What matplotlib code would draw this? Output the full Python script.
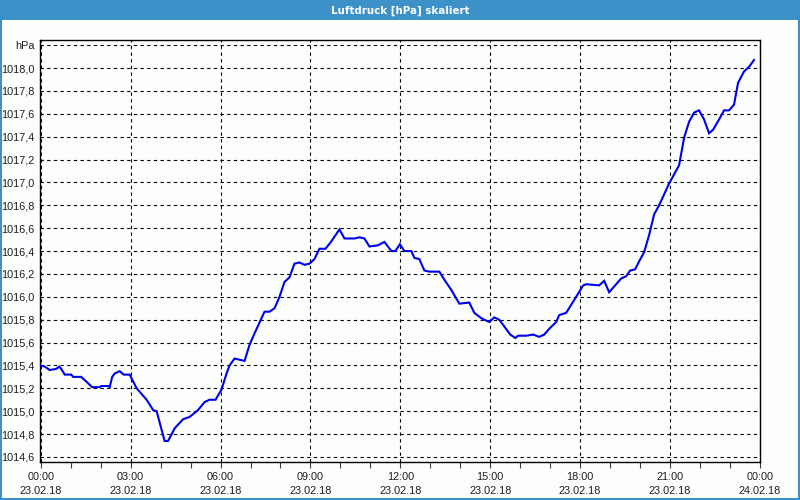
import matplotlib
matplotlib.use("Agg")
import matplotlib.pyplot as plt
from matplotlib.patches import Rectangle
from matplotlib.ticker import FixedLocator

# time in minutes since 23.02.18 00:00
minutes = [0, 8, 18, 31, 37, 41, 48, 61, 65, 81, 91, 103, 118, 121, 135, 138, 143, 148, 158, 166,
           178, 192, 212, 225, 232, 248, 255, 268, 285, 298, 315, 328, 338, 350, 362, 372, 378, 388,
           398, 408, 418, 428, 448, 458, 468, 478, 488, 498, 508, 518, 528, 538, 548, 558, 570, 581,
           598, 608, 628, 638, 648, 658, 675, 688, 702, 710, 719, 728, 742, 748, 758, 768, 778, 798,
           808, 822, 838, 858, 868, 883, 898, 908, 918, 940, 950, 956, 972, 986, 998, 1008, 1018,
           1032, 1038, 1052, 1062, 1076, 1086, 1092, 1118, 1128, 1138, 1148, 1162, 1172, 1180, 1190,
           1198, 1208, 1218, 1228, 1238, 1258, 1278, 1288, 1298, 1308, 1318, 1328, 1338, 1346, 1358,
           1368, 1378, 1388, 1396, 1408, 1418, 1428]
pressure = [1015.40, 1015.39, 1015.36, 1015.37, 1015.39, 1015.37, 1015.32, 1015.32, 1015.30, 1015.30,
            1015.26, 1015.21, 1015.21, 1015.22, 1015.22, 1015.21, 1015.30, 1015.33, 1015.35, 1015.32,
            1015.32, 1015.20, 1015.10, 1015.01, 1015.00, 1014.74, 1014.74, 1014.85, 1014.93, 1014.95,
            1015.01, 1015.08, 1015.10, 1015.10, 1015.19, 1015.33, 1015.40, 1015.46, 1015.45, 1015.44,
            1015.58, 1015.68, 1015.87, 1015.87, 1015.90, 1016.00, 1016.13, 1016.17, 1016.29, 1016.30,
            1016.28, 1016.29, 1016.33, 1016.42, 1016.42, 1016.48, 1016.59, 1016.51, 1016.51, 1016.52,
            1016.51, 1016.44, 1016.45, 1016.48, 1016.40, 1016.40, 1016.46, 1016.40, 1016.40, 1016.34,
            1016.33, 1016.23, 1016.22, 1016.22, 1016.15, 1016.06, 1015.94, 1015.95, 1015.86, 1015.81,
            1015.78, 1015.82, 1015.80, 1015.67, 1015.64, 1015.66, 1015.66, 1015.67, 1015.65, 1015.67,
            1015.72, 1015.78, 1015.84, 1015.86, 1015.93, 1016.03, 1016.10, 1016.11, 1016.10, 1016.14,
            1016.04, 1016.09, 1016.16, 1016.18, 1016.23, 1016.24, 1016.31, 1016.39, 1016.54, 1016.72,
            1016.80, 1016.99, 1017.15, 1017.39, 1017.53, 1017.61, 1017.63, 1017.55, 1017.43, 1017.46,
            1017.55, 1017.63, 1017.63, 1017.68, 1017.87, 1017.97, 1018.01, 1018.07]

x_tick_minutes = [0, 180, 360, 540, 720, 900, 1080, 1260, 1440]
x_tick_labels = ["00:00\n23.02.18", "03:00\n23.02.18", "06:00\n23.02.18", "09:00\n23.02.18",
                 "12:00\n23.02.18", "15:00\n23.02.18", "18:00\n23.02.18", "21:00\n23.02.18",
                 "00:00\n24.02.18"]
y_ticks = [1014.6, 1014.8, 1015.0, 1015.2, 1015.4, 1015.6, 1015.8, 1016.0, 1016.2, 1016.4,
           1016.6, 1016.8, 1017.0, 1017.2, 1017.4, 1017.6, 1017.8, 1018.0, 1018.2]
y_tick_labels = ["1014,6", "1014,8", "1015,0", "1015,2", "1015,4", "1015,6", "1015,8", "1016,0",
                 "1016,2", "1016,4", "1016,6", "1016,8", "1017,0", "1017,2", "1017,4", "1017,6",
                 "1017,8", "1018,0", "hPa"]
title = "Luftdruck [hPa] skaliert"

BG = "#FBFEFB"
BAR = "#3C91C8"
TXT = "#1E1E1E"
FONT = ["Liberation Sans", "DejaVu Sans"]

fig = plt.figure(figsize=(8, 5), dpi=100, facecolor=BG)
# title bar and window border
fig.patches.append(Rectangle((0, 0.96), 1, 0.04, transform=fig.transFigure, facecolor=BAR,
                             edgecolor="none", zorder=0))
for rect in [(0, 0, 0.0025, 1), (0.9975, 0, 0.0025, 1), (0, 0, 1, 0.004)]:
    fig.patches.append(Rectangle(rect[:2], rect[2], rect[3], transform=fig.transFigure,
                                 facecolor=BAR, edgecolor="none", zorder=0))
fig.text(0.5, 0.979, title, ha="center", va="center", color="white", fontsize=7.4,
         fontweight="bold", family="DejaVu Sans")

ax = fig.add_axes([0.05, 0.076, 0.9, 0.844])
ax.set_facecolor(BG)
ax.plot(minutes, pressure, color="#0000EE", lw=1.5, zorder=3, solid_joinstyle="miter")

ax.set_xlim(-1.5, 1440)
ax.set_ylim(1014.556, 1018.245)

ax.set_xticks(x_tick_minutes)
ax.set_xticklabels(x_tick_labels, family=FONT)
ax.xaxis.set_minor_locator(FixedLocator(list(range(0, 1441, 60))))
ax.tick_params(axis="x", which="both", direction="out", length=4, width=0.8, color="#404040",
               labelsize=7.8, labelcolor=TXT, pad=3)
ax.set_yticks(y_ticks)
ax.set_yticklabels(y_tick_labels, family=FONT)
ax.tick_params(axis="y", which="both", length=0, labelsize=7.8, labelcolor=TXT, pad=4)
for lbl in ax.get_xticklabels():
    lbl.set_linespacing(1.55)

ax.grid(True, which="major", color="black", linestyle=(0, (3, 3)), linewidth=0.8)
for sp in ax.spines.values():
    sp.set_color("black")
    sp.set_linewidth(1.0)

fig.savefig("out.png", dpi=100, facecolor=BG)
